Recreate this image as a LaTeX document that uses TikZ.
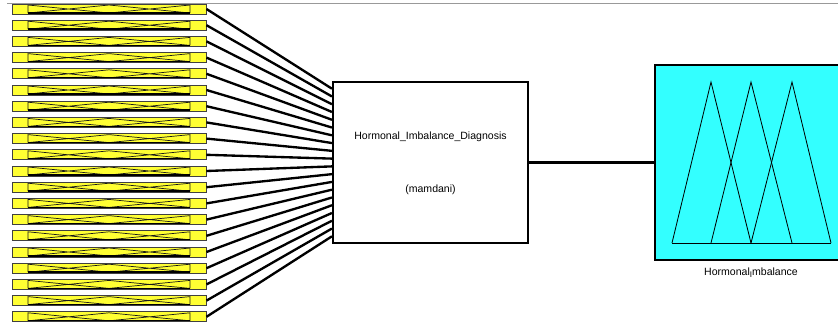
\documentclass[tikz,border=0pt]{standalone}
\usepackage{fontspec}
\setmainfont{Liberation Sans}
\usetikzlibrary{calc}

\definecolor{inyellow}{RGB}{255,255,51}
\definecolor{outcyan}{RGB}{51,255,255}

\tikzset{
	inputmf/.style={draw=black!75, fill=inyellow, line width=0.8pt, inner sep=0pt,
		minimum width=5.82cm, minimum height=0.3cm,
		path picture={
			\draw[black!90, line width=0.6pt]
				([shift={(-2.43cm,-0.12cm)}]path picture bounding box.center) -- ++(0,0.24cm)
				-- ([shift={(0cm,-0.12cm)}]path picture bounding box.center)
				([shift={(-2.43cm,-0.12cm)}]path picture bounding box.center)
				-- ([shift={(0cm,0.12cm)}]path picture bounding box.center)
				-- ([shift={(2.43cm,-0.12cm)}]path picture bounding box.center)
				([shift={(0cm,-0.12cm)}]path picture bounding box.center)
				-- ([shift={(2.43cm,0.12cm)}]path picture bounding box.center) -- ++(0,-0.24cm);
			\draw[black, line width=1.3pt]
				([shift={(-2.43cm,-0.12cm)}]path picture bounding box.center)
				-- ([shift={(2.43cm,-0.12cm)}]path picture bounding box.center);
		}},
	fisbox/.style={draw=black, fill=white, line width=1.8pt, minimum width=5.85cm, minimum height=4.83cm},
	outmf/.style={draw=black, fill=outcyan, line width=1.4pt, minimum width=5.55cm, minimum height=5.85cm},
	link/.style={draw=black, line width=2pt},
	lbl/.style={font=\fontsize{9}{10}\selectfont, inner sep=1pt}
}

\begin{document}
\begin{tikzpicture}[x=0.03cm, y=-0.03cm]
	\useasboundingbox (0,0) rectangle (838,328);
	% frame line on top
	\coordinate (topl) at (7,3);
	\coordinate (topr) at (838,3);
	\draw[gray!80, line width=0.8pt] (topl) -- (topr);

	\node[fisbox] (fis) at (430.5,162.5) {};
	\node[lbl] (fisname) at (430.5,137) {Hormonal\_Imbalance\_Diagnosis};
	\node[lbl] (fistype) at (430.5,190) {(mamdani)};

	\node[outmf] (out) at (747.5,162.5) {};
	\node[lbl] (outname) at (751,273) {Hormonal\raisebox{-0.35ex}{\scriptsize I}mbalance};

	% input membership functions
	\foreach \i in {1,...,20}
		\node[inputmf] (in\i) at (109,{9+16.2*(\i-1)}) {};
	\foreach \i in {1,...,20}
		\draw[link] (in\i.east) -- ($(fis.north west)!\i/21!(fis.south west)$);

	\draw[link] (fis.east) -- (out.west);

	% output membership functions
	\draw[black, line width=0.7pt] (672,243) -- (711,82) -- (751,243);
	\draw[black, line width=0.7pt] (711,243) -- (751,82) -- (792,243);
	\draw[black, line width=0.7pt] (751,243) -- (792,82) -- (831,243);
	\draw[black, line width=0.7pt] (672,243) -- (831,243);
\end{tikzpicture}
\end{document}
